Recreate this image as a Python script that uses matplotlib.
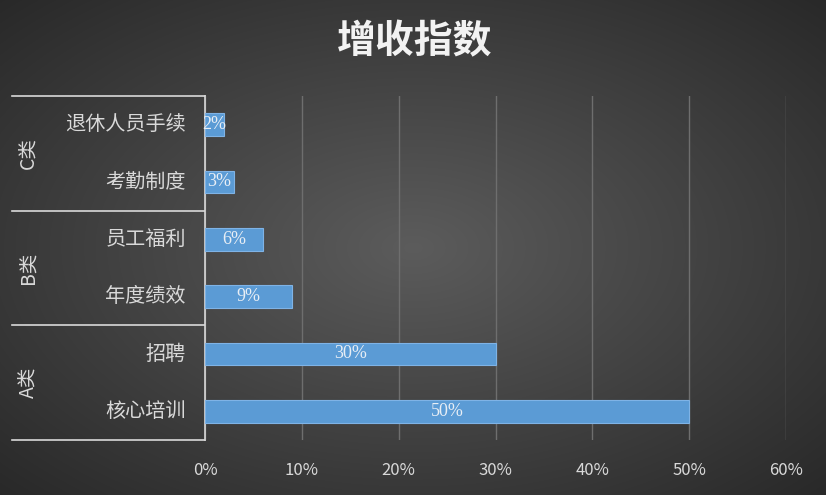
import numpy as np
import matplotlib
matplotlib.use("Agg")
import matplotlib.pyplot as plt

plt.rcParams['font.family'] = ['Noto Sans CJK SC', 'DejaVu Sans']

categories = ["核心培训", "招聘", "年度绩效", "员工福利", "考勤制度", "退休人员手续"]
values = [50, 30, 9, 6, 3, 2]
groups = ["A类", "B类", "C类"]
ticks = [0, 10, 20, 30, 40, 50, 60]

W, H = 826, 495
fig = plt.figure(figsize=(W/100, H/100), dpi=100)

bg = fig.add_axes([0, 0, 1, 1])
yy, xx = np.mgrid[0:H, 0:W]
r = np.sqrt(((xx - W/2)/(W*0.6))**2 + ((yy - H/2)/(H*0.6))**2)
v = np.clip(0.36 - 0.17*r, 0.16, 0.4)
bg.imshow(np.dstack([v, v, v]), extent=[0, W, H, 0], aspect='auto')
bg.set_xlim(0, W); bg.set_ylim(H, 0); bg.axis('off')

def fx(px): return px/W
def fy(py): return 1 - py/H

x0, x1, ytop, ybot = 205, 786, 96, 440
ax = fig.add_axes([fx(x0), fy(ybot), fx(x1)-fx(x0), fy(ytop)-fy(ybot)])
ax.patch.set_alpha(0)
y = np.arange(len(categories))
bars = ax.barh(y, values, height=0.4, color='#5b9bd5', edgecolor='#7fb3e6', linewidth=0.8, zorder=3)
for b, v_ in zip(bars, values):
    ax.text(v_/2, b.get_y()+b.get_height()/2, f"{v_}%", ha='center', va='center',
            color='#e8eef5', fontsize=13, family='Liberation Serif', zorder=4)
ax.set_xlim(0, 60)
ax.set_ylim(-0.5, len(categories)-0.5)
ax.set_xticks(ticks)
ax.set_xticklabels([f"{t}%" for t in ticks], color='#d9d9d9', fontsize=12)
ax.grid(axis='x', color='#6e6e6e', linewidth=1, zorder=0)
ax.tick_params(axis='x', length=0, pad=16)
ax.set_yticks([])
for s in ['top', 'right', 'bottom']:
    ax.spines[s].set_visible(False)
ax.spines['left'].set_color('#d9d9d9')
ax.spines['left'].set_linewidth(1.2)

for i, c in enumerate(categories):
    yc = ybot - (i + 0.5)*(ybot-ytop)/6
    bg.text(186, yc, c, ha='right', va='center', color='#d9d9d9', fontsize=14.5)
for k, g in enumerate(groups):
    yb = ybot - k*(ybot-ytop)/3
    yt = ybot - (k+1)*(ybot-ytop)/3
    bg.text(28, (yb+yt)/2, g, rotation=90, ha='center', va='center', color='#d9d9d9', fontsize=14)
for k in range(4):
    yl = ybot - k*(ybot-ytop)/3
    bg.plot([12, 205], [yl, yl], color='#d9d9d9', lw=1.2)

bg.text(W/2 + 2, 42, "增收指数", ha='center', va='center', color='#f2f2f2', fontsize=28, weight='bold')

fig.savefig("out.png", dpi=100)
